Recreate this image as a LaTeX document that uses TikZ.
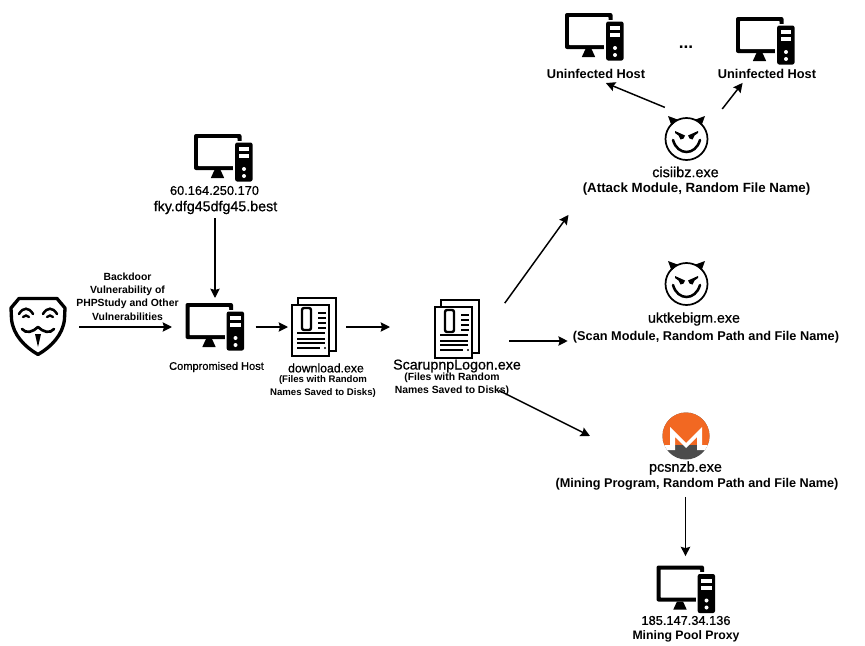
\documentclass[tikz,border=0pt]{standalone}
\usepackage{fontspec}
\setmainfont{Liberation Sans}
\usetikzlibrary{arrows.meta}
\definecolor{moneroorange}{HTML}{F26822}
\definecolor{monerogray}{HTML}{4C4C4C}
\tikzset{
  link/.style={-{Stealth[length=7pt,width=7pt,inset=1pt]},line width=1.1pt},
  iconbox/.style={inner sep=0pt,outer sep=0pt,minimum width=#1},
  hostbox/.style={iconbox=45pt,minimum height=36pt},
  filebox/.style={iconbox=33pt,minimum height=43.5pt},
  devilbox/.style={iconbox=45pt,minimum height=34pt},
  boldlabel/.style={inner sep=0pt,font=\fontsize{#1}{#1}\selectfont\bfseries},
  semilabel/.style={inner sep=0pt,font=\fontsize{#1}{#1}\selectfont\addfontfeature{FakeBold=0.7}},
  notelabel/.style={inner sep=0pt,align=center,font=\fontsize{#1}{10}\selectfont\bfseries},
  host/.pic={
    \fill[rounded corners=1.5pt] (-29.5,-24) rectangle (18,12);
    \fill[white,rounded corners=.5pt] (-25.5,-20) rectangle (14,8);
    \fill (-9,12) -- (-3,12) -- (0.7,20) -- (-12.7,20) -- cycle;
    \fill[white] (9.5,-17.5) rectangle (30,24);
    \fill[rounded corners=1.5pt] (11.7,-15.5) rectangle (29,23.5);
    \fill[white] (15,-11) rectangle (25.7,-7);
    \fill[white] (15,-4) rectangle (25.7,0);
    \fill[white] (20.5,11) circle (2);
    \fill[white] (20.5,18) circle (2);
  },
  paper/.pic={
    \draw[line width=1.8pt,fill=white] (-16,-29) rectangle (22,24);
    \draw[line width=1.8pt,fill=white] (-22,-22) rectangle (15,29);
    \draw[line width=1.8pt,rounded corners=1.5pt] (-12,-19) rectangle (-3,3);
    \foreach \y in {-14,-9,-4,1} {
      \draw[line width=1.6pt] (4,\y) -- (12,\y);
    }
    \foreach \y in {6,12,16} {
      \draw[line width=1.6pt] (-17,\y) -- (11,\y);
    }
    \draw[line width=1.6pt] (-17,21) -- (6,21);
    \fill (11,21) circle (1.2);
  },
  devil/.pic={
    \draw[line width=1.3pt] (0,0) circle (21);
    \fill (-18.5,-23) -- (-9,-19.5) -- (-15,-13.5) -- cycle;
    \fill (18.5,-23) -- (9,-19.5) -- (15,-13.5) -- cycle;
    \fill (-11.5,-8) -- (-1.5,-3.5) -- (-3,-.5) -- (-6,.5) -- (-8,-3.5) -- (-11.5,-6) -- cycle;
    \fill (11.5,-8) -- (1.5,-3.5) -- (3,-.5) -- (6,.5) -- (8,-3.5) -- (11.5,-6) -- cycle;
    \draw[line width=1.9pt,line cap=round] (-13.5,1) .. controls (-9,17) and (9,17) .. (13.5,1);
  },
  monero/.pic={
    \begin{scope}
      \clip (0,0) circle (23.5);
      \fill[monerogray] (-24,-24) rectangle (24,24);
      \fill[moneroorange] (-24,-24) rectangle (24,9);
      \fill[white] (-24,9) -- (-16,9) -- (-16,-9) -- (0,7) -- (16,-9) -- (16,9) -- (24,9) -- (24,14)
        -- (11,14) -- (11,1) -- (0,12) -- (-11,1) -- (-11,14) -- (-24,14) -- cycle;
    \end{scope}
  },
  mask/.pic={
    \draw[line width=2.5pt,line join=round] (-19,-28.5) -- (19,-28.5) -- (27,-19) -- (26.5,-8)
      .. controls (25,8) and (13,20) .. (0,27.5)
      .. controls (-13,20) and (-25,8) .. (-26.5,-8) -- (-27,-19) -- cycle;
    \foreach \s in {-1,1} {
      \draw[line width=1.9pt,line cap=round] (\s*19,-13) .. controls (\s*15,-20) and (\s*9,-20) .. (\s*5,-13);
      \draw[line width=1.7pt,line cap=round] (\s*15,-10) .. controls (\s*13,-12) and (\s*11,-12) .. (\s*9,-10);
      \draw[line width=2pt,line cap=round] (\s*16,2) .. controls (\s*12,7) and (\s*5,5) .. (0,0);
    }
    \fill (-3,7) -- (3,7) -- (0,20) -- cycle;
  }
}
\begin{document}
\begin{tikzpicture}[x=0.75pt,y=-0.75pt]
\useasboundingbox (0,0) rectangle (865,646);
% Attacker and compromised host
\node[iconbox=42pt,minimum height=43.5pt] (attacker) at (38,327) {};
\pic at (attacker) {mask};
\node[hostbox] (hostVictim) at (215,327) {};
\pic at (hostVictim) {host};
\node[semilabel=8.3] (victimName) at (216.5,367) {Compromised Host};
\node[notelabel=7.8] (backdoorNote) at (127.5,296.5) {Backdoor\\Vulnerability of\\PHPStudy and Other\\Vulnerabilities};
% Download server
\node[hostbox] (hostServer) at (223.5,158) {};
\pic at (hostServer) {host};
\node[semilabel=9.6] (serverIp) at (214.5,190.5) {60.164.250.170};
\node[semilabel=10.7] (serverName) at (215.5,207.5) {fky.dfg45dfg45.best};
% Dropped files
\node[filebox] (downloadIcon) at (314,327) {};
\pic at (downloadIcon) {paper};
\node[semilabel=9.2] (downloadName) at (326,368) {download.exe};
\node[notelabel=7.2] (downloadNote) at (323,386.5) {(Files with Random\\Names Saved to Disks)};
\node[filebox] (scarIcon) at (457,329) {};
\pic at (scarIcon) {paper};
\node[semilabel=10.7] (scarName) at (457,366) {ScarupnpLogon.exe};
\node[notelabel=7.8] (scarNote) at (452,384) {(Files with Random\\Names Saved to Disks)};
% Attack module
\node[devilbox] (cisIcon) at (686.5,139) {};
\pic at (cisIcon) {devil};
\node[semilabel=10.8] (cisName) at (685.5,172) {cisiibz.exe};
\node[boldlabel=10] (cisNote) at (696.5,189) {(Attack Module, Random File Name)};
\node[hostbox] (hostLeft) at (594.5,37) {};
\pic at (hostLeft) {host};
\node[boldlabel=9.6] (leftName) at (596,74) {Uninfected Host};
\node[hostbox] (hostRight) at (765.5,41) {};
\pic at (hostRight) {host};
\node[boldlabel=9.6] (rightName) at (767,74) {Uninfected Host};
\node[boldlabel=13] (moreHosts) at (686,47) {...};
% Scan module
\node[devilbox] (uktIcon) at (686.5,284) {};
\pic at (uktIcon) {devil};
\node[semilabel=10.7] (uktName) at (694,319) {uktkebigm.exe};
\node[boldlabel=9.55] (uktNote) at (706,337) {(Scan Module, Random Path and File Name)};
\coordinate (uktIn) at ([yshift=-3pt]uktNote.west);
% Mining program
\node[circle,minimum size=35pt,inner sep=0pt] (moneroIcon) at (686,436) {};
\pic at (moneroIcon) {monero};
\node[semilabel=10.8] (pcsName) at (685.5,468) {pcsnzb.exe};
\node[boldlabel=9.5] (pcsNote) at (697,484) {(Mining Program, Random Path and File Name)};
\coordinate (moneroIn) at (590,436);
\node[hostbox] (hostProxy) at (686,589.5) {};
\pic at (hostProxy) {host};
\node[semilabel=9.6] (proxyIp) at (686,620.5) {185.147.34.136};
\node[boldlabel=9.2] (proxyName) at (686,636) {Mining Pool Proxy};
% Connectors
\draw[link,shorten <=9.75pt,shorten >=9.75pt] (attacker) -- (hostVictim);
\draw[link,shorten <=3pt,shorten >=3.75pt] (serverName.south -| hostVictim.north) -- (hostVictim);
\draw[link,shorten <=8pt,shorten >=3pt] (hostVictim) -- (downloadIcon);
\draw[link,shorten <=7.5pt,shorten >=33.75pt] (downloadIcon) -- (downloadIcon -| scarIcon.west);
\draw[link,shorten <=33pt,shorten >=18pt] (scarIcon.-24) -- (cisNote.south west);
\draw[link,shorten <=22.5pt,shorten >=3.75pt] (scarIcon.east |- uktIn) -- (uktIn);
\draw[link,shorten <=-9pt] (scarNote.south east) -- (moneroIn);
\draw[link,shorten <=17.6pt,shorten >=8pt] (cisIcon.north) -- (leftName.south);
\draw[link,shorten <=7pt,shorten >=3.75pt] (cisIcon.north east) -- ([xshift=-16pt]rightName.south);
\draw[link,shorten <=5pt,shorten >=7pt] (pcsName |- pcsNote.south) -- (pcsName |- hostProxy.north);
\end{tikzpicture}
\end{document}
